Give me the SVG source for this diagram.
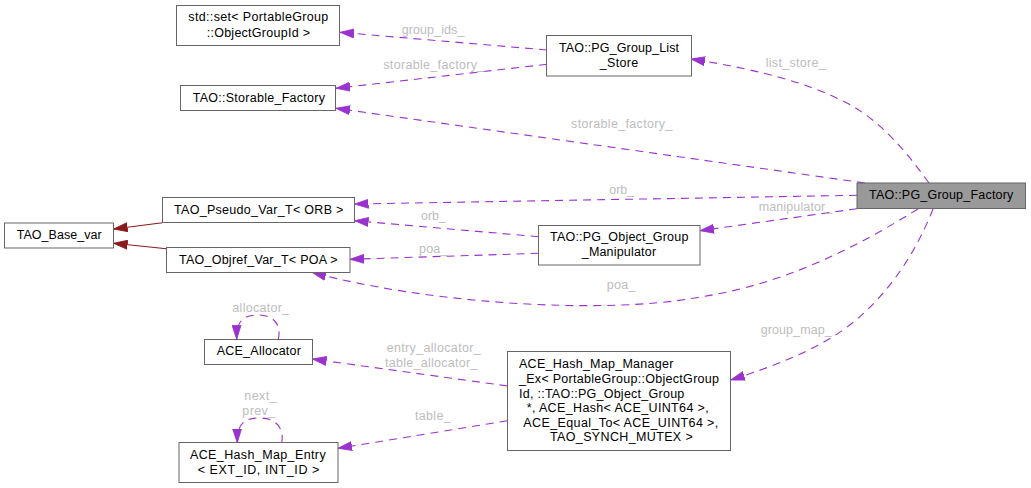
<svg xmlns="http://www.w3.org/2000/svg" width="1031" height="488" viewBox="0 0 1031 488">
<style>
text{font-family:"Liberation Sans",Arial,Helvetica,sans-serif;font-size:12.5px}
.n{fill:#000;text-anchor:middle}
.ns{fill:#000;text-anchor:start}
.l{fill:#bdbdbd;text-anchor:middle}
rect{fill:#fff;stroke:#666;stroke-width:1}
rect.hl{fill:#999}
.e{fill:none;stroke:#9a32cd;stroke-width:1.1;stroke-dasharray:8,6;marker-end:url(#ap)}
.i{fill:none;stroke:#8b1a1a;stroke-width:1.1;marker-end:url(#ar)}
</style>
<defs>
<marker id="ap" viewBox="0 0 14 10" markerWidth="14" markerHeight="10" refX="14" refY="5" orient="auto" markerUnits="userSpaceOnUse"><path d="M0,0.5 L14,5 L0,9.5 Z" fill="#9a32cd" stroke="#9a32cd" stroke-width="0.8"/></marker>
<marker id="ar" viewBox="0 0 14 10" markerWidth="14" markerHeight="10" refX="14" refY="5" orient="auto" markerUnits="userSpaceOnUse"><path d="M0,0.5 L14,5 L0,9.5 Z" fill="#8b1a1a" stroke="#8b1a1a" stroke-width="0.8"/></marker>
</defs>
<rect x="0" y="0" width="1031" height="488" style="fill:#fff;stroke:none"/>
<g id="edges">
<path class="e" d="M547,50 L340,32.3"/>
<path class="e" d="M547,64.3 L336,88.3"/>
<path class="e" d="M929,183 C905,150 880,120 845,102 C805,82 760,70 691,59"/>
<path class="e" d="M865,183 L336,108.3"/>
<path class="e" d="M857,195.3 L354.5,204"/>
<path class="e" d="M857,208.7 L700,230.7"/>
<path class="e" d="M538.5,236.7 L354.5,220.7"/>
<path class="e" d="M538.5,253.3 L350,259.3"/>
<path class="e" d="M918,209 C880,232 800,282 700,297 C600,316 420,302 312,272.3"/>
<path class="e" d="M933,209 C915,255 885,300 843,330 C815,350 775,366 730.7,380"/>
<path class="e" d="M507.5,386 L312.5,359"/>
<path class="e" d="M507.5,420.7 L338,448.3"/>
<path class="e" d="M278.3,339.3 C281,328 277,315 258,315 C242,315 236.5,322 236.7,339.3"/>
<path class="e" d="M281.7,442.7 C284,431 279,418 259,418 C243,418 237,425 237.3,442.7"/>
<path class="i" d="M162.5,222.7 L113.5,229"/>
<path class="i" d="M166.5,248.7 L113.5,243.3"/>
</g>
<g id="edge-labels">
<text class="l" x="433" y="33.7" textLength="62.7">group_ids_</text>
<text class="l" x="433.8" y="69.4" textLength="101">storable_factory_</text>
<text class="l" x="795.7" y="66.7" textLength="60">list_store_</text>
<text class="l" x="621.7" y="128.4" textLength="101.3">storable_factory_</text>
<text class="l" x="621.7" y="193.7" textLength="24.7">orb_</text>
<text class="l" x="795.5" y="211" textLength="73.7">manipulator_</text>
<text class="l" x="433.5" y="220.4" textLength="25">orb_</text>
<text class="l" x="433.2" y="252.7" textLength="28.3">poa_</text>
<text class="l" x="621.2" y="288.7" textLength="28.7">poa_</text>
<text class="l" x="796.2" y="333.7" textLength="71">group_map_</text>
<text class="l" x="260.7" y="311.7" textLength="56.7">allocator_</text>
<text class="l" x="433.7" y="352" textLength="94">entry_allocator_</text>
<text class="l" x="431.2" y="366.7" textLength="92.3">table_allocator_</text>
<text class="l" x="260.5" y="400.4" textLength="32.3">next_</text>
<text class="l" x="258.7" y="415.4" textLength="32.7">prev_</text>
<text class="l" x="432.8" y="420" textLength="35.7">table_</text>
</g>
<g id="node-stdset">
<rect x="176.5" y="5.5" width="163" height="40"/>
<text class="n" x="258.3" y="21" textLength="140">std::set&lt; PortableGroup</text>
<text class="n" x="258.3" y="36.7" textLength="103.3">::ObjectGroupId &gt;</text>
</g>
<g id="node-storable-factory">
<rect x="180.5" y="85.5" width="155" height="25"/>
<text class="n" x="258.8" y="102" textLength="132.3">TAO::Storable_Factory</text>
</g>
<g id="node-pseudo-var">
<rect x="162.5" y="197.5" width="192" height="25"/>
<text class="n" x="258.7" y="214.4" textLength="169.3">TAO_Pseudo_Var_T&lt; ORB &gt;</text>
</g>
<g id="node-base-var">
<rect x="4.5" y="223" width="109" height="25"/>
<text class="n" x="59.2" y="239.4" textLength="85">TAO_Base_var</text>
</g>
<g id="node-objref-var">
<rect x="166.5" y="247.5" width="183.5" height="25"/>
<text class="n" x="258.3" y="263.7" textLength="158.7">TAO_Objref_Var_T&lt; POA &gt;</text>
</g>
<g id="node-list-store">
<rect x="546.5" y="35.5" width="145" height="40.5"/>
<text class="n" x="619" y="52" textLength="120">TAO::PG_Group_List</text>
<text class="n" x="619" y="66.7" textLength="38.3">_Store</text>
</g>
<g id="node-group-factory">
<rect class="hl" x="857" y="183" width="168.5" height="25.5"/>
<text class="n" x="941.2" y="199.4" textLength="144.3">TAO::PG_Group_Factory</text>
</g>
<g id="node-manipulator">
<rect x="538.5" y="225.5" width="161.5" height="39.5"/>
<text class="n" x="619.2" y="241" textLength="138.3">TAO::PG_Object_Group</text>
<text class="n" x="618.9" y="256" textLength="74.3">_Manipulator</text>
</g>
<g id="node-allocator">
<rect x="204.5" y="339.5" width="108" height="25"/>
<text class="n" x="258.8" y="355.4" textLength="84.3">ACE_Allocator</text>
</g>
<g id="node-hash-map-entry">
<rect x="179" y="442.5" width="159" height="40"/>
<text class="n" x="257.8" y="458.7" textLength="135.7">ACE_Hash_Map_Entry</text>
<text class="n" x="258.5" y="473.7" textLength="121.7">&lt; EXT_ID, INT_ID &gt;</text>
</g>
<g id="node-hash-map-manager">
<rect x="507.5" y="351.5" width="223" height="99"/>
<text class="ns" x="519" y="367.7" textLength="154.3">ACE_Hash_Map_Manager</text>
<text class="ns" x="519" y="382.7" textLength="200">_Ex&lt; PortableGroup::ObjectGroup</text>
<text class="ns" x="519" y="397.7" textLength="165.3">Id, ::TAO::PG_Object_Group</text>
<text class="ns" x="526.7" y="412" textLength="182">*, ACE_Hash&lt; ACE_UINT64 &gt;,</text>
<text class="ns" x="523.3" y="427" textLength="195">ACE_Equal_To&lt; ACE_UINT64 &gt;,</text>
<text class="ns" x="550" y="441" textLength="142.7">TAO_SYNCH_MUTEX &gt;</text>
</g>
</svg>
